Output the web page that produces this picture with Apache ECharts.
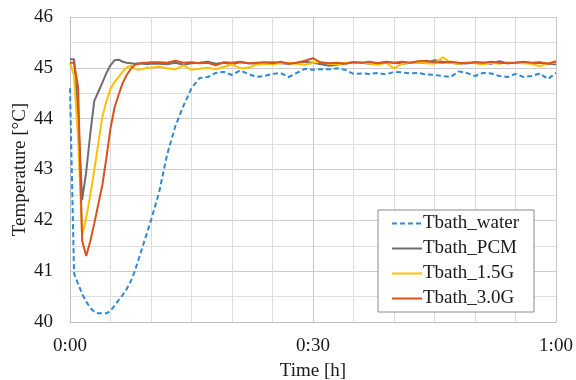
<!DOCTYPE html>
<html>
<head>
<meta charset="utf-8">
<script src="https://cdn.jsdelivr.net/npm/echarts@6/dist/echarts.min.js"></script>
<style>html,body{margin:0;padding:0;background:#fff}#c{width:576px;height:380px}</style>
</head>
<body>
<div id="c"></div>
<script>
// time in minutes
var time = [0,0.5,1,1.5,2,2.5,3,3.5,4,4.5,5,5.5,6,6.5,7,7.5,8,8.5,9,9.5,10,
  11,12,13,14,15,16,17,18,19,20,21,22,23,24,25,26,27,28,29,30,
  31,32,33,34,35,36,37,38,39,40,41,42,43,44,45,46,47,48,49,50,
  51,52,53,54,55,56,57,58,59,60];
var seriesNames = ['Tbath_water','Tbath_PCM','Tbath_1.5G','Tbath_3.0G'];
var xTickLabels = {0:'0:00',30:'0:30',60:'1:00'};
var tWater = [44.6,40.95,40.75,40.55,40.4,40.28,40.2,40.17,40.17,40.17,40.22,40.32,40.43,40.53,40.65,40.8,41.0,41.25,41.5,41.75,42.0,
  42.55,43.3,43.85,44.25,44.6,44.8,44.82,44.9,44.92,44.86,44.95,44.88,44.82,44.84,44.88,44.9,44.82,44.9,44.98,44.96,
  44.97,44.97,44.99,44.96,44.88,44.89,44.88,44.9,44.87,44.92,44.91,44.89,44.9,44.87,44.86,44.84,44.82,44.93,44.9,44.84,
  44.9,44.89,44.84,44.82,44.88,44.82,44.84,44.89,44.78,44.9];
var tPCM = [45.17,45.17,44.1,42.4,42.95,43.7,44.35,44.53,44.71,44.9,45.05,45.15,45.16,45.12,45.1,45.09,45.08,45.09,45.08,45.07,45.08,
  45.08,45.07,45.1,45.06,45.09,45.1,45.12,45.08,45.1,45.07,45.11,45.09,45.08,45.1,45.11,45.09,45.08,45.1,45.12,45.1,
  45.07,45.04,45.06,45.09,45.11,45.1,45.08,45.09,45.12,45.1,45.08,45.1,45.11,45.09,45.15,45.12,45.1,45.08,45.09,45.11,
  45.1,45.08,45.13,45.09,45.1,45.11,45.09,45.1,45.08,45.07];
var t15G = [45.1,44.85,43.6,41.7,42.04,42.5,42.99,43.52,44.04,44.35,44.59,44.72,44.82,44.92,45.01,45.04,44.98,44.96,44.98,45.0,45.0,
  45.02,44.99,44.97,45.05,44.96,44.98,45.0,44.97,45.02,45.07,44.99,45.0,45.06,45.08,45.07,45.09,45.1,45.08,45.06,45.1,
  45.12,45.08,45.07,45.1,45.09,45.11,45.08,45.06,45.1,44.99,45.08,45.1,45.12,45.09,45.08,45.21,45.1,45.08,45.11,45.09,
  45.07,45.1,45.08,45.11,45.1,45.09,45.08,45.03,45.09,45.1];
var t30G = [45.1,45.1,44.62,41.6,41.3,41.59,41.94,42.32,42.7,43.24,43.81,44.22,44.47,44.7,44.86,44.98,45.06,45.08,45.1,45.1,45.11,
  45.11,45.1,45.14,45.1,45.11,45.09,45.1,45.05,45.11,45.1,45.12,45.09,45.1,45.11,45.09,45.12,45.08,45.1,45.14,45.19,
  45.1,45.09,45.1,45.08,45.11,45.1,45.12,45.09,45.11,45.1,45.12,45.1,45.13,45.14,45.11,45.1,45.12,45.1,45.09,45.11,
  45.1,45.12,45.1,45.09,45.1,45.12,45.1,45.11,45.08,45.13];

function pairs(arr){ return time.map(function(t,i){ return [t, arr[i]]; }); }
var colors = ['#2E88D6','#6E6E6E','#FFC000','#D9531E'];
var datasets = [tWater, tPCM, t15G, t30G];
var font = 'Liberation Serif';

var chart = echarts.init(document.getElementById('c'));
chart.setOption({
  animation: false,
  textStyle: {fontFamily: font},
  grid: {left: 70, right: 20, top: 17, bottom: 58, containLabel: false, outerBoundsMode: 'none'},
  legend: {
    orient: 'vertical', left: 378, top: 210,
    data: seriesNames,
    itemWidth: 30, itemHeight: 12, itemGap: 6,
    padding: [4, 15, 4, 13],
    borderColor: '#8c8c8c', borderWidth: 1,
    backgroundColor: '#fff',
    itemStyle: {color: 'rgba(0,0,0,0)', borderColor: 'rgba(0,0,0,0)', borderWidth: 0},
    textStyle: {fontFamily: font, fontSize: 19, color: '#1a1a1a', padding: [0,0,0,-4]}
  },
  xAxis: {
    type: 'value', min: 0, max: 60, interval: 5,
    name: 'Time [h]', nameLocation: 'middle', nameGap: 40, nameMoveOverlap: false,
    nameTextStyle: {fontFamily: font, fontSize: 19, color: '#1a1a1a'},
    axisLine: {show: true, lineStyle: {color: '#c0c0c0'}},
    axisTick: {show: false},
    axisLabel: {fontFamily: font, fontSize: 19, color: '#1a1a1a', margin: 15,
      formatter: function(v){ return xTickLabels[v] !== undefined ? xTickLabels[v] : ''; }},
    splitLine: {show: true, lineStyle: {color: ['#c6c6c6','#dcdcdc','#dcdcdc','#dcdcdc','#dcdcdc','#dcdcdc'], width: 1}}
  },
  yAxis: {
    type: 'value', min: 40, max: 46, interval: 0.5,
    name: 'Temperature [°C]', nameLocation: 'middle', nameGap: 40, nameMoveOverlap: false,
    nameTextStyle: {fontFamily: font, fontSize: 19, color: '#1a1a1a'},
    axisLine: {show: true, lineStyle: {color: '#c0c0c0'}},
    axisTick: {show: false},
    axisLabel: {fontFamily: font, fontSize: 19, color: '#1a1a1a', margin: 17,
      formatter: function(v){ return (Math.abs(v - Math.round(v)) < 1e-6) ? String(Math.round(v)) : ''; }},
    splitLine: {show: true, lineStyle: {color: ['#cdcdcd','#e0e0e0'], width: 1}}
  },
  series: datasets.map(function(d, i){
    return {
      name: seriesNames[i], type: 'line', data: pairs(d),
      symbol: 'none', showSymbol: false, smooth: false,
      color: colors[i],
      lineStyle: {color: colors[i], width: 2, type: i === 0 ? [5, 3] : 'solid'},
      z: i === 0 ? 2 : 3 + i
    };
  })
});
</script>
</body>
</html>
